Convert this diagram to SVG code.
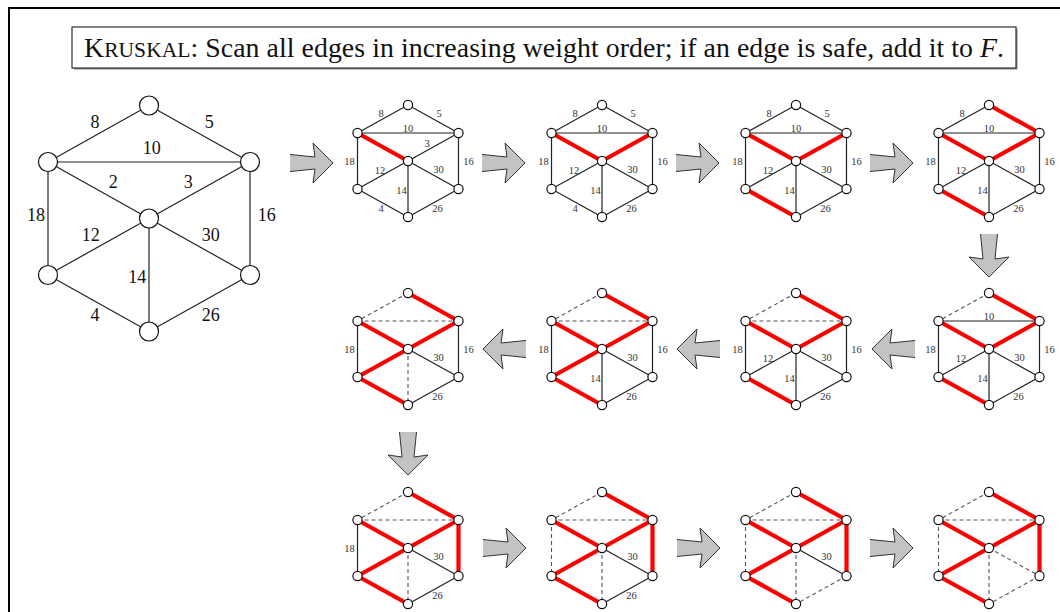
<svg xmlns="http://www.w3.org/2000/svg" xmlns:xlink="http://www.w3.org/1999/xlink" width="1060" height="612" viewBox="0 0 1060 612">
<style>
.e{stroke:#222;stroke-width:1.2;fill:none}
.r{stroke:#f00;stroke-width:4.2;fill:none}
.d{stroke:#555;stroke-width:1.1;stroke-dasharray:4 3;fill:none}
.n{fill:#fff;stroke:#111;stroke-width:1.2}
.s{font-family:"Liberation Serif",serif;font-size:10.5px;fill:#333;text-anchor:middle;dominant-baseline:central}
.b{font-family:"Liberation Serif",serif;font-size:18px;fill:#111;text-anchor:middle;dominant-baseline:central}
.af{fill:#c3c3c3;stroke:none}
.as{fill:none;stroke:#333;stroke-width:1;stroke-linejoin:miter}
</style>
<defs>
<g id="sn">
<circle class="n" cx="0" cy="-56" r="4.6"/>
<circle class="n" cx="-50.5" cy="-28" r="4.6"/>
<circle class="n" cx="50.5" cy="-28" r="4.6"/>
<circle class="n" cx="0" cy="0" r="4.6"/>
<circle class="n" cx="-50.5" cy="28" r="4.6"/>
<circle class="n" cx="50.5" cy="28" r="4.6"/>
<circle class="n" cx="0" cy="56" r="4.6"/>
</g>
<g id="arr">
<path class="af" d="M-43,-8.5 L-18,-6 L-20,-20 L0,0 L-20,20 L-18,6 L-43,8.5 Z"/>
<path class="as" d="M-43,-8.5 L-18,-6 L-20,-20 L0,0 L-20,20 L-18,6 L-43,8.5"/>
</g>
</defs>
<rect width="1060" height="612" fill="#fff"/>
<rect x="9" y="8" width="1070" height="620" fill="none" stroke="#000" stroke-width="2"/>
<g id="title">
<rect x="73.5" y="28.5" width="944" height="41" fill="#888"/>
<rect x="72" y="27" width="944" height="41" fill="#fff" stroke="#333" stroke-width="1.2"/>
<text x="84" y="57" textLength="920" lengthAdjust="spacing" font-family="Liberation Serif, serif" font-size="27.8" fill="#111">K<tspan font-size="21.5">RUSKAL</tspan>: Scan all edges in increasing weight order; if an edge is safe, add it to <tspan font-style="italic">F</tspan>.</text>
</g>
<g id="graph">
<line class="e" x1="149" y1="105.5" x2="48" y2="162"/>
<line class="e" x1="149" y1="105.5" x2="250" y2="162"/>
<line class="e" x1="48" y1="162" x2="250" y2="162"/>
<line class="e" x1="48" y1="162" x2="149" y2="218.5"/>
<line class="e" x1="149" y1="218.5" x2="250" y2="162"/>
<line class="e" x1="48" y1="162" x2="48" y2="275"/>
<line class="e" x1="250" y1="162" x2="250" y2="275"/>
<line class="e" x1="149" y1="218.5" x2="48" y2="275"/>
<line class="e" x1="149" y1="218.5" x2="250" y2="275"/>
<line class="e" x1="149" y1="218.5" x2="149" y2="331.5"/>
<line class="e" x1="48" y1="275" x2="149" y2="331.5"/>
<line class="e" x1="250" y1="275" x2="149" y2="331.5"/>
<circle class="n" cx="149" cy="105.5" r="9.5"/>
<circle class="n" cx="48" cy="162" r="9.5"/>
<circle class="n" cx="250" cy="162" r="9.5"/>
<circle class="n" cx="149" cy="218.5" r="9.5"/>
<circle class="n" cx="48" cy="275" r="9.5"/>
<circle class="n" cx="250" cy="275" r="9.5"/>
<circle class="n" cx="149" cy="331.5" r="9.5"/>
<text class="b" x="95" y="121.7">8</text>
<text class="b" x="209.3" y="121.7">5</text>
<text class="b" x="151.7" y="148.3">10</text>
<text class="b" x="113.3" y="182.3">2</text>
<text class="b" x="188.3" y="182.3">3</text>
<text class="b" x="36" y="215">18</text>
<text class="b" x="266.7" y="215">16</text>
<text class="b" x="90.7" y="235">12</text>
<text class="b" x="210.7" y="235">30</text>
<text class="b" x="137.3" y="276.7">14</text>
<text class="b" x="95" y="315">4</text>
<text class="b" x="210.7" y="315">26</text>
</g>
<g id="step1" transform="translate(408,161)">
<line class="e" x1="0" y1="-56" x2="-50.5" y2="-28"/>
<line class="e" x1="0" y1="-56" x2="50.5" y2="-28"/>
<line class="e" x1="-50.5" y1="-28" x2="50.5" y2="-28"/>
<line class="e" x1="0" y1="0" x2="50.5" y2="-28"/>
<line class="e" x1="-50.5" y1="-28" x2="-50.5" y2="28"/>
<line class="e" x1="50.5" y1="-28" x2="50.5" y2="28"/>
<line class="e" x1="0" y1="0" x2="-50.5" y2="28"/>
<line class="e" x1="0" y1="0" x2="50.5" y2="28"/>
<line class="e" x1="0" y1="0" x2="0" y2="56"/>
<line class="e" x1="-50.5" y1="28" x2="0" y2="56"/>
<line class="e" x1="50.5" y1="28" x2="0" y2="56"/>
<line class="r" x1="-50.5" y1="-28" x2="0" y2="0"/>
<use href="#sn"/>
<text class="s" x="-27" y="-47.5">8</text>
<text class="s" x="31" y="-47.5">5</text>
<text class="s" x="0" y="-32.5">10</text>
<text class="s" x="19" y="-17.5">3</text>
<text class="s" x="-58.5" y="0">18</text>
<text class="s" x="60.5" y="0">16</text>
<text class="s" x="-28" y="9.3">12</text>
<text class="s" x="30.5" y="8.6">30</text>
<text class="s" x="-6.5" y="29.3">14</text>
<text class="s" x="-27" y="47.6">4</text>
<text class="s" x="29.5" y="47.6">26</text>
</g>
<g id="step2" transform="translate(602,161)">
<line class="e" x1="0" y1="-56" x2="-50.5" y2="-28"/>
<line class="e" x1="0" y1="-56" x2="50.5" y2="-28"/>
<line class="e" x1="-50.5" y1="-28" x2="50.5" y2="-28"/>
<line class="e" x1="-50.5" y1="-28" x2="-50.5" y2="28"/>
<line class="e" x1="50.5" y1="-28" x2="50.5" y2="28"/>
<line class="e" x1="0" y1="0" x2="-50.5" y2="28"/>
<line class="e" x1="0" y1="0" x2="50.5" y2="28"/>
<line class="e" x1="0" y1="0" x2="0" y2="56"/>
<line class="e" x1="-50.5" y1="28" x2="0" y2="56"/>
<line class="e" x1="50.5" y1="28" x2="0" y2="56"/>
<line class="r" x1="-50.5" y1="-28" x2="0" y2="0"/>
<line class="r" x1="0" y1="0" x2="50.5" y2="-28"/>
<use href="#sn"/>
<text class="s" x="-27" y="-47.5">8</text>
<text class="s" x="31" y="-47.5">5</text>
<text class="s" x="0" y="-32.5">10</text>
<text class="s" x="-58.5" y="0">18</text>
<text class="s" x="60.5" y="0">16</text>
<text class="s" x="-28" y="9.3">12</text>
<text class="s" x="30.5" y="8.6">30</text>
<text class="s" x="-6.5" y="29.3">14</text>
<text class="s" x="-27" y="47.6">4</text>
<text class="s" x="29.5" y="47.6">26</text>
</g>
<g id="step3" transform="translate(796,161)">
<line class="e" x1="0" y1="-56" x2="-50.5" y2="-28"/>
<line class="e" x1="0" y1="-56" x2="50.5" y2="-28"/>
<line class="e" x1="-50.5" y1="-28" x2="50.5" y2="-28"/>
<line class="e" x1="-50.5" y1="-28" x2="-50.5" y2="28"/>
<line class="e" x1="50.5" y1="-28" x2="50.5" y2="28"/>
<line class="e" x1="0" y1="0" x2="-50.5" y2="28"/>
<line class="e" x1="0" y1="0" x2="50.5" y2="28"/>
<line class="e" x1="0" y1="0" x2="0" y2="56"/>
<line class="e" x1="50.5" y1="28" x2="0" y2="56"/>
<line class="r" x1="-50.5" y1="-28" x2="0" y2="0"/>
<line class="r" x1="0" y1="0" x2="50.5" y2="-28"/>
<line class="r" x1="-50.5" y1="28" x2="0" y2="56"/>
<use href="#sn"/>
<text class="s" x="-27" y="-47.5">8</text>
<text class="s" x="31" y="-47.5">5</text>
<text class="s" x="0" y="-32.5">10</text>
<text class="s" x="-58.5" y="0">18</text>
<text class="s" x="60.5" y="0">16</text>
<text class="s" x="-28" y="9.3">12</text>
<text class="s" x="30.5" y="8.6">30</text>
<text class="s" x="-6.5" y="29.3">14</text>
<text class="s" x="29.5" y="47.6">26</text>
</g>
<g id="step4" transform="translate(989,161)">
<line class="e" x1="0" y1="-56" x2="-50.5" y2="-28"/>
<line class="e" x1="-50.5" y1="-28" x2="50.5" y2="-28"/>
<line class="e" x1="-50.5" y1="-28" x2="-50.5" y2="28"/>
<line class="e" x1="50.5" y1="-28" x2="50.5" y2="28"/>
<line class="e" x1="0" y1="0" x2="-50.5" y2="28"/>
<line class="e" x1="0" y1="0" x2="50.5" y2="28"/>
<line class="e" x1="0" y1="0" x2="0" y2="56"/>
<line class="e" x1="50.5" y1="28" x2="0" y2="56"/>
<line class="r" x1="-50.5" y1="-28" x2="0" y2="0"/>
<line class="r" x1="0" y1="0" x2="50.5" y2="-28"/>
<line class="r" x1="-50.5" y1="28" x2="0" y2="56"/>
<line class="r" x1="0" y1="-56" x2="50.5" y2="-28"/>
<use href="#sn"/>
<text class="s" x="-27" y="-47.5">8</text>
<text class="s" x="0" y="-32.5">10</text>
<text class="s" x="-58.5" y="0">18</text>
<text class="s" x="60.5" y="0">16</text>
<text class="s" x="-28" y="9.3">12</text>
<text class="s" x="30.5" y="8.6">30</text>
<text class="s" x="-6.5" y="29.3">14</text>
<text class="s" x="29.5" y="47.6">26</text>
</g>
<g id="step5" transform="translate(989,349)">
<line class="d" x1="0" y1="-56" x2="-50.5" y2="-28"/>
<line class="e" x1="-50.5" y1="-28" x2="50.5" y2="-28"/>
<line class="e" x1="-50.5" y1="-28" x2="-50.5" y2="28"/>
<line class="e" x1="50.5" y1="-28" x2="50.5" y2="28"/>
<line class="e" x1="0" y1="0" x2="-50.5" y2="28"/>
<line class="e" x1="0" y1="0" x2="50.5" y2="28"/>
<line class="e" x1="0" y1="0" x2="0" y2="56"/>
<line class="e" x1="50.5" y1="28" x2="0" y2="56"/>
<line class="r" x1="-50.5" y1="-28" x2="0" y2="0"/>
<line class="r" x1="0" y1="0" x2="50.5" y2="-28"/>
<line class="r" x1="-50.5" y1="28" x2="0" y2="56"/>
<line class="r" x1="0" y1="-56" x2="50.5" y2="-28"/>
<use href="#sn"/>
<text class="s" x="0" y="-32.5">10</text>
<text class="s" x="-58.5" y="0">18</text>
<text class="s" x="60.5" y="0">16</text>
<text class="s" x="-28" y="9.3">12</text>
<text class="s" x="30.5" y="8.6">30</text>
<text class="s" x="-6.5" y="29.3">14</text>
<text class="s" x="29.5" y="47.6">26</text>
</g>
<g id="step6" transform="translate(796,349)">
<line class="d" x1="0" y1="-56" x2="-50.5" y2="-28"/>
<line class="d" x1="-50.5" y1="-28" x2="50.5" y2="-28"/>
<line class="e" x1="-50.5" y1="-28" x2="-50.5" y2="28"/>
<line class="e" x1="50.5" y1="-28" x2="50.5" y2="28"/>
<line class="e" x1="0" y1="0" x2="-50.5" y2="28"/>
<line class="e" x1="0" y1="0" x2="50.5" y2="28"/>
<line class="e" x1="0" y1="0" x2="0" y2="56"/>
<line class="e" x1="50.5" y1="28" x2="0" y2="56"/>
<line class="r" x1="-50.5" y1="-28" x2="0" y2="0"/>
<line class="r" x1="0" y1="0" x2="50.5" y2="-28"/>
<line class="r" x1="-50.5" y1="28" x2="0" y2="56"/>
<line class="r" x1="0" y1="-56" x2="50.5" y2="-28"/>
<use href="#sn"/>
<text class="s" x="-58.5" y="0">18</text>
<text class="s" x="60.5" y="0">16</text>
<text class="s" x="-28" y="9.3">12</text>
<text class="s" x="30.5" y="8.6">30</text>
<text class="s" x="-6.5" y="29.3">14</text>
<text class="s" x="29.5" y="47.6">26</text>
</g>
<g id="step7" transform="translate(602,349)">
<line class="d" x1="0" y1="-56" x2="-50.5" y2="-28"/>
<line class="d" x1="-50.5" y1="-28" x2="50.5" y2="-28"/>
<line class="e" x1="-50.5" y1="-28" x2="-50.5" y2="28"/>
<line class="e" x1="50.5" y1="-28" x2="50.5" y2="28"/>
<line class="e" x1="0" y1="0" x2="50.5" y2="28"/>
<line class="e" x1="0" y1="0" x2="0" y2="56"/>
<line class="e" x1="50.5" y1="28" x2="0" y2="56"/>
<line class="r" x1="0" y1="0" x2="-50.5" y2="28"/>
<line class="r" x1="-50.5" y1="-28" x2="0" y2="0"/>
<line class="r" x1="0" y1="0" x2="50.5" y2="-28"/>
<line class="r" x1="-50.5" y1="28" x2="0" y2="56"/>
<line class="r" x1="0" y1="-56" x2="50.5" y2="-28"/>
<use href="#sn"/>
<text class="s" x="-58.5" y="0">18</text>
<text class="s" x="60.5" y="0">16</text>
<text class="s" x="30.5" y="8.6">30</text>
<text class="s" x="-6.5" y="29.3">14</text>
<text class="s" x="29.5" y="47.6">26</text>
</g>
<g id="step8" transform="translate(408,349)">
<line class="d" x1="0" y1="-56" x2="-50.5" y2="-28"/>
<line class="d" x1="-50.5" y1="-28" x2="50.5" y2="-28"/>
<line class="d" x1="0" y1="0" x2="0" y2="56"/>
<line class="e" x1="-50.5" y1="-28" x2="-50.5" y2="28"/>
<line class="e" x1="50.5" y1="-28" x2="50.5" y2="28"/>
<line class="e" x1="0" y1="0" x2="50.5" y2="28"/>
<line class="e" x1="50.5" y1="28" x2="0" y2="56"/>
<line class="r" x1="0" y1="0" x2="-50.5" y2="28"/>
<line class="r" x1="-50.5" y1="-28" x2="0" y2="0"/>
<line class="r" x1="0" y1="0" x2="50.5" y2="-28"/>
<line class="r" x1="-50.5" y1="28" x2="0" y2="56"/>
<line class="r" x1="0" y1="-56" x2="50.5" y2="-28"/>
<use href="#sn"/>
<text class="s" x="-58.5" y="0">18</text>
<text class="s" x="60.5" y="0">16</text>
<text class="s" x="30.5" y="8.6">30</text>
<text class="s" x="29.5" y="47.6">26</text>
</g>
<g id="step9" transform="translate(408,548)">
<line class="d" x1="0" y1="-56" x2="-50.5" y2="-28"/>
<line class="d" x1="-50.5" y1="-28" x2="50.5" y2="-28"/>
<line class="d" x1="0" y1="0" x2="0" y2="56"/>
<line class="e" x1="-50.5" y1="-28" x2="-50.5" y2="28"/>
<line class="e" x1="0" y1="0" x2="50.5" y2="28"/>
<line class="e" x1="50.5" y1="28" x2="0" y2="56"/>
<line class="r" x1="50.5" y1="-28" x2="50.5" y2="28"/>
<line class="r" x1="0" y1="0" x2="-50.5" y2="28"/>
<line class="r" x1="-50.5" y1="-28" x2="0" y2="0"/>
<line class="r" x1="0" y1="0" x2="50.5" y2="-28"/>
<line class="r" x1="-50.5" y1="28" x2="0" y2="56"/>
<line class="r" x1="0" y1="-56" x2="50.5" y2="-28"/>
<use href="#sn"/>
<text class="s" x="-58.5" y="0">18</text>
<text class="s" x="30.5" y="8.6">30</text>
<text class="s" x="29.5" y="47.6">26</text>
</g>
<g id="step10" transform="translate(602,548)">
<line class="d" x1="0" y1="-56" x2="-50.5" y2="-28"/>
<line class="d" x1="-50.5" y1="-28" x2="50.5" y2="-28"/>
<line class="d" x1="0" y1="0" x2="0" y2="56"/>
<line class="d" x1="-50.5" y1="-28" x2="-50.5" y2="28"/>
<line class="e" x1="0" y1="0" x2="50.5" y2="28"/>
<line class="e" x1="50.5" y1="28" x2="0" y2="56"/>
<line class="r" x1="50.5" y1="-28" x2="50.5" y2="28"/>
<line class="r" x1="0" y1="0" x2="-50.5" y2="28"/>
<line class="r" x1="-50.5" y1="-28" x2="0" y2="0"/>
<line class="r" x1="0" y1="0" x2="50.5" y2="-28"/>
<line class="r" x1="-50.5" y1="28" x2="0" y2="56"/>
<line class="r" x1="0" y1="-56" x2="50.5" y2="-28"/>
<use href="#sn"/>
<text class="s" x="30.5" y="8.6">30</text>
<text class="s" x="29.5" y="47.6">26</text>
</g>
<g id="step11" transform="translate(796,548)">
<line class="d" x1="0" y1="-56" x2="-50.5" y2="-28"/>
<line class="d" x1="-50.5" y1="-28" x2="50.5" y2="-28"/>
<line class="d" x1="0" y1="0" x2="0" y2="56"/>
<line class="d" x1="-50.5" y1="-28" x2="-50.5" y2="28"/>
<line class="d" x1="50.5" y1="28" x2="0" y2="56"/>
<line class="e" x1="0" y1="0" x2="50.5" y2="28"/>
<line class="r" x1="50.5" y1="-28" x2="50.5" y2="28"/>
<line class="r" x1="0" y1="0" x2="-50.5" y2="28"/>
<line class="r" x1="-50.5" y1="-28" x2="0" y2="0"/>
<line class="r" x1="0" y1="0" x2="50.5" y2="-28"/>
<line class="r" x1="-50.5" y1="28" x2="0" y2="56"/>
<line class="r" x1="0" y1="-56" x2="50.5" y2="-28"/>
<use href="#sn"/>
<text class="s" x="30.5" y="8.6">30</text>
</g>
<g id="step12" transform="translate(989,548)">
<line class="d" x1="0" y1="-56" x2="-50.5" y2="-28"/>
<line class="d" x1="-50.5" y1="-28" x2="50.5" y2="-28"/>
<line class="d" x1="0" y1="0" x2="0" y2="56"/>
<line class="d" x1="-50.5" y1="-28" x2="-50.5" y2="28"/>
<line class="d" x1="50.5" y1="28" x2="0" y2="56"/>
<line class="d" x1="0" y1="0" x2="50.5" y2="28"/>
<line class="r" x1="50.5" y1="-28" x2="50.5" y2="28"/>
<line class="r" x1="0" y1="0" x2="-50.5" y2="28"/>
<line class="r" x1="-50.5" y1="-28" x2="0" y2="0"/>
<line class="r" x1="0" y1="0" x2="50.5" y2="-28"/>
<line class="r" x1="-50.5" y1="28" x2="0" y2="56"/>
<line class="r" x1="0" y1="-56" x2="50.5" y2="-28"/>
<use href="#sn"/>
</g>
<g id="connectors">
<use href="#arr" transform="translate(333,163)"/>
<use href="#arr" transform="translate(525,163)"/>
<use href="#arr" transform="translate(719,163)"/>
<use href="#arr" transform="translate(913,163)"/>
<use href="#arr" transform="translate(989,277) rotate(90)"/>
<use href="#arr" transform="translate(872,349) rotate(180)"/>
<use href="#arr" transform="translate(677,349) rotate(180)"/>
<use href="#arr" transform="translate(483,349) rotate(180)"/>
<use href="#arr" transform="translate(408,475) rotate(90)"/>
<use href="#arr" transform="translate(526,548)"/>
<use href="#arr" transform="translate(720,548)"/>
<use href="#arr" transform="translate(913,548)"/>
</g>
</svg>
